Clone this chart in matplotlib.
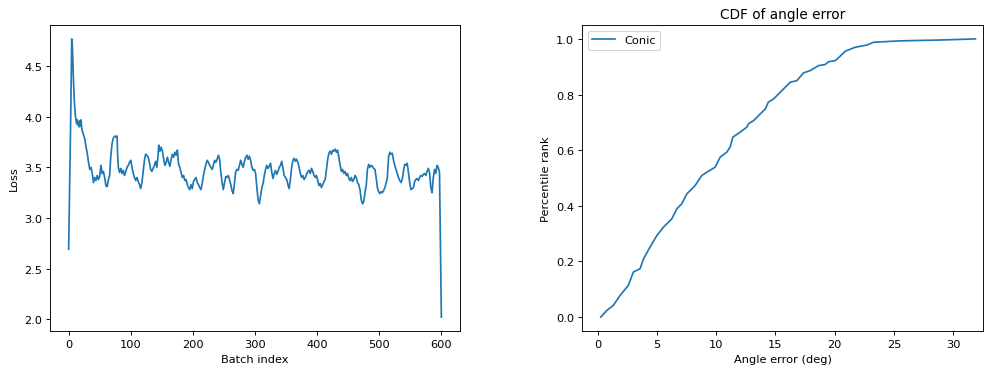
import matplotlib
matplotlib.use("Agg")
import matplotlib.pyplot as plt

batch_index = [0, 3, 5, 6, 7, 8, 9, 10, 11, 12, 13, 14, 15, 16, 17, 18, 19, 20, 21, 22, 24, 26, 28, 30,
               32, 34, 36, 38, 40, 42, 44, 46, 48, 50, 52, 54, 56, 58, 60, 62, 64, 66, 68, 70, 72, 74,
               76, 78, 79, 80, 82, 84, 86, 88, 90, 92, 94, 96, 98, 100, 102, 104, 106, 108, 110, 112,
               114, 116, 118, 120, 122, 124, 126, 128, 130, 132, 134, 136, 138, 140, 142, 144, 145,
               147, 149, 151, 153, 155, 157, 159, 161, 163, 165, 167, 169, 171, 173, 175, 177, 179,
               181, 183, 185, 187, 189, 191, 193, 195, 197, 199, 201, 203, 205, 207, 209, 211, 213,
               215, 217, 219, 221, 223, 225, 227, 229, 231, 233, 235, 237, 239, 241, 243, 245, 247,
               249, 251, 253, 255, 257, 259, 261, 263, 265, 267, 269, 271, 273, 275, 277, 279, 281,
               283, 285, 287, 289, 291, 293, 295, 297, 299, 301, 303, 305, 307, 309, 311, 313, 315,
               317, 319, 321, 323, 325, 327, 329, 331, 333, 335, 337, 339, 341, 343, 345, 347, 349,
               351, 353, 355, 357, 359, 361, 363, 365, 367, 369, 371, 373, 375, 377, 379, 381, 383,
               385, 387, 389, 391, 393, 395, 397, 399, 401, 403, 405, 407, 409, 411, 413, 415, 417,
               419, 421, 423, 425, 427, 429, 431, 433, 435, 437, 439, 441, 443, 445, 447, 449, 451,
               453, 455, 457, 459, 461, 463, 465, 467, 469, 471, 473, 475, 477, 479, 481, 483, 485,
               487, 489, 491, 493, 495, 497, 499, 501, 503, 505, 507, 509, 511, 513, 515, 517, 519,
               521, 523, 525, 527, 529, 531, 533, 535, 537, 539, 541, 543, 545, 547, 549, 551, 553,
               555, 557, 559, 561, 563, 565, 567, 569, 571, 573, 575, 577, 579, 581, 583, 585, 587,
               589, 591, 593, 595, 597, 600]
loss = [2.69, 3.85, 4.77, 4.70, 4.50, 4.32, 4.18, 4.08, 4.01, 3.96, 3.93, 3.97, 3.92, 3.95, 3.90, 3.96,
        3.91, 3.97, 3.89, 3.86, 3.82, 3.78, 3.70, 3.64, 3.55, 3.48, 3.50, 3.44, 3.35, 3.40, 3.37, 3.42,
        3.38, 3.41, 3.52, 3.44, 3.46, 3.40, 3.32, 3.31, 3.38, 3.42, 3.62, 3.74, 3.79, 3.81, 3.80, 3.81,
        3.60, 3.50, 3.45, 3.49, 3.44, 3.47, 3.42, 3.46, 3.50, 3.52, 3.55, 3.57, 3.50, 3.44, 3.40, 3.37,
        3.40, 3.36, 3.33, 3.29, 3.35, 3.46, 3.57, 3.63, 3.62, 3.60, 3.55, 3.48, 3.46, 3.49, 3.52, 3.56,
        3.50, 3.62, 3.72, 3.66, 3.70, 3.66, 3.58, 3.52, 3.55, 3.60, 3.55, 3.51, 3.58, 3.63, 3.60, 3.65,
        3.62, 3.67, 3.53, 3.50, 3.45, 3.40, 3.42, 3.37, 3.38, 3.33, 3.30, 3.28, 3.33, 3.29, 3.36, 3.38,
        3.40, 3.35, 3.33, 3.30, 3.28, 3.34, 3.42, 3.48, 3.53, 3.57, 3.55, 3.52, 3.50, 3.48, 3.52, 3.57,
        3.55, 3.58, 3.62, 3.58, 3.45, 3.35, 3.28, 3.35, 3.41, 3.40, 3.42, 3.38, 3.33, 3.27, 3.24, 3.35,
        3.46, 3.48, 3.47, 3.52, 3.57, 3.53, 3.50, 3.56, 3.60, 3.62, 3.58, 3.61, 3.57, 3.50, 3.47, 3.48,
        3.44, 3.30, 3.18, 3.14, 3.22, 3.30, 3.34, 3.42, 3.48, 3.52, 3.49, 3.51, 3.54, 3.45, 3.39, 3.44,
        3.47, 3.43, 3.46, 3.50, 3.52, 3.56, 3.49, 3.42, 3.40, 3.38, 3.33, 3.29, 3.38, 3.50, 3.57, 3.59,
        3.56, 3.58, 3.55, 3.50, 3.44, 3.40, 3.42, 3.38, 3.40, 3.43, 3.46, 3.47, 3.44, 3.49, 3.46, 3.42,
        3.40, 3.42, 3.37, 3.32, 3.34, 3.30, 3.33, 3.36, 3.38, 3.48, 3.58, 3.64, 3.66, 3.63, 3.67, 3.66,
        3.68, 3.65, 3.67, 3.60, 3.52, 3.46, 3.48, 3.44, 3.46, 3.42, 3.44, 3.39, 3.37, 3.40, 3.36, 3.38,
        3.42, 3.40, 3.35, 3.33, 3.28, 3.18, 3.14, 3.16, 3.25, 3.32, 3.48, 3.53, 3.50, 3.52, 3.51, 3.49,
        3.48, 3.40, 3.30, 3.26, 3.24, 3.26, 3.25, 3.27, 3.30, 3.34, 3.40, 3.60, 3.65, 3.63, 3.64, 3.57,
        3.52, 3.48, 3.44, 3.40, 3.37, 3.35, 3.38, 3.46, 3.53, 3.52, 3.54, 3.45, 3.35, 3.28, 3.29, 3.30,
        3.36, 3.38, 3.39, 3.37, 3.40, 3.42, 3.41, 3.43, 3.44, 3.42, 3.46, 3.49, 3.45, 3.30, 3.25, 3.40,
        3.48, 3.44, 3.52, 3.50, 3.45, 2.02]

angle_error = [0.27, 0.78, 1.33, 1.90, 2.60, 3.02, 3.59, 3.87, 4.43, 5.00, 5.55, 6.26, 6.68, 7.10,
               7.53, 8.23, 8.79, 9.22, 9.92, 10.34, 10.90, 11.18, 11.41, 12.03, 12.59, 12.73, 13.15,
               13.71, 14.14, 14.41, 14.84, 15.26, 15.82, 16.24, 16.81, 17.37, 17.93, 18.63, 19.20,
               19.48, 20.04, 20.46, 20.89, 21.73, 22.72, 23.27, 25.50, 28.90, 31.86]
percentile = [0.000, 0.024, 0.042, 0.078, 0.114, 0.162, 0.174, 0.209, 0.252, 0.293, 0.323, 0.353,
              0.389, 0.407, 0.443, 0.473, 0.509, 0.521, 0.539, 0.575, 0.593, 0.611, 0.647, 0.665,
              0.683, 0.695, 0.706, 0.730, 0.748, 0.773, 0.784, 0.802, 0.826, 0.844, 0.850, 0.878,
              0.886, 0.904, 0.908, 0.918, 0.922, 0.938, 0.956, 0.970, 0.978, 0.988, 0.993, 0.996,
              1.000]

W, H = 985, 370
DPI = 82
fig = plt.figure(figsize=(W / DPI, H / DPI), dpi=DPI)

def box(l, r, t, b):
    return [l / W, 1 - b / H, (r - l) / W, (b - t) / H]

ax1 = fig.add_axes(box(50, 460, 26, 332))
ax1.plot(batch_index, loss, color="#1f77b4")
ax1.set_xlabel("Batch index")
ax1.set_ylabel("Loss")

ax2 = fig.add_axes(box(582, 983, 26, 332))
ax2.plot(angle_error, percentile, color="#1f77b4", label="Conic")
ax2.set_xlim(-1.31, 32.5)
ax2.set_xlabel("Angle error (deg)")
ax2.set_ylabel("Percentile rank")
ax2.set_title("CDF of angle error")
ax2.legend(loc="upper left")

fig.savefig("out.png", dpi=DPI)
